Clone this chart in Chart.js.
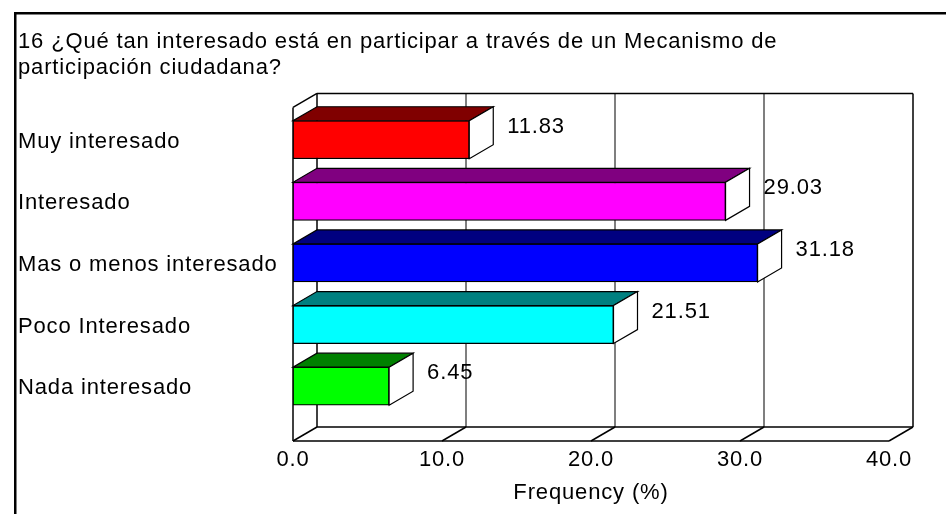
<!DOCTYPE html>
<html>
<head>
<meta charset="utf-8">
<script src="https://cdn.jsdelivr.net/npm/chart.js@4"></script>
<style>
  html, body { margin: 0; padding: 0; background: #fff; }
  #wrap { width: 946px; height: 514px; }
</style>
</head>
<body>
<div id="wrap"><canvas id="chart16"></canvas></div>
<script>
// datos de la pregunta 16
const categorias = ['Muy interesado', 'Interesado', 'Mas o menos interesado', 'Poco Interesado', 'Nada interesado'];
const frecuencia = [11.83, 29.03, 31.18, 21.51, 6.45];
const ticksX = [0, 10, 20, 30, 40];

const coloresFrente = ['#ff0000', '#ff00ff', '#0000ff', '#00ffff', '#00ff00'];
const coloresArriba = ['#800000', '#800080', '#000080', '#008080', '#008000'];

const fuente = "'Liberation Sans', Arial, sans-serif";
const dx = 24, dy = -14;   // profundidad del efecto 3D

function linea(ctx, x1, y1, x2, y2) {
  ctx.beginPath();
  ctx.moveTo(x1, y1);
  ctx.lineTo(x2, y2);
  ctx.stroke();
}

function poligono(ctx, pts, fill) {
  ctx.beginPath();
  ctx.moveTo(pts[0][0], pts[0][1]);
  pts.slice(1).forEach(p => ctx.lineTo(p[0], p[1]));
  ctx.closePath();
  ctx.fillStyle = fill;
  ctx.fill();
  ctx.stroke();
}

const efecto3D = {
  id: 'efecto3D',
  beforeDraw(chart) {
    const ctx = chart.ctx;
    ctx.save();
    ctx.fillStyle = '#fff';
    ctx.fillRect(0, 0, chart.width, chart.height);
    ctx.strokeStyle = '#000';
    ctx.lineWidth = 2.5;
    ctx.strokeRect(15.25, 13.25, chart.width + 20, chart.height + 20);
    ctx.restore();
    // el texto del original es mas ancho que Arial
    ctx.letterSpacing = '0.85px';
  },
  beforeDatasetsDraw(chart) {
    const { ctx, chartArea: a, scales: { x } } = chart;
    const L = x.getPixelForValue(x.min);
    const R = x.getPixelForValue(x.max);
    const top = a.top - 1.5;
    const bottom = a.bottom + 24;
    ctx.save();
    ctx.lineWidth = 1.5;
    // lineas de la pared del fondo y del piso
    ticksX.forEach(v => {
      if (v === x.min || v === x.max) return;
      const px = x.getPixelForValue(v);
      ctx.strokeStyle = '#555';
      linea(ctx, px + dx, top + dy, px + dx, bottom + dy);
      ctx.strokeStyle = '#000';
      linea(ctx, px, bottom, px + dx, bottom + dy);
    });
    ctx.strokeStyle = '#000';
    linea(ctx, L, top, L, bottom);
    linea(ctx, L + dx, top + dy, L + dx, bottom + dy);
    linea(ctx, L, top, L + dx, top + dy);
    linea(ctx, L, bottom, L + dx, bottom + dy);
    linea(ctx, L + dx, top + dy, R + dx, top + dy);
    linea(ctx, R + dx, top + dy, R + dx, bottom + dy);
    linea(ctx, L, bottom, R, bottom);
    linea(ctx, L + dx, bottom + dy, R + dx, bottom + dy);
    linea(ctx, R, bottom, R + dx, bottom + dy);
    ctx.restore();
  },
  afterDatasetsDraw(chart) {
    const ctx = chart.ctx;
    const meta = chart.getDatasetMeta(0);
    ctx.save();
    ctx.lineWidth = 1.2;
    ctx.strokeStyle = '#000';
    meta.data.forEach((bar, i) => {
      const { x: xe, y: yc, base, height } = bar.getProps(['x', 'y', 'base', 'height'], true);
      const t = yc - height / 2, b = yc + height / 2;
      poligono(ctx, [[base, t], [xe, t], [xe + dx, t + dy], [base + dx, t + dy]], coloresArriba[i]);
      poligono(ctx, [[xe, t], [xe + dx, t + dy], [xe + dx, b + dy], [xe, b]], '#fff');
      ctx.fillStyle = '#000';
      ctx.font = '22px ' + fuente;
      ctx.textAlign = 'left';
      ctx.textBaseline = 'middle';
      ctx.fillText(frecuencia[i].toFixed(2), xe + dx + 14, t + 6);
    });
    ctx.restore();
  }
};

const ctx = document.getElementById('chart16').getContext('2d');

new Chart(ctx, {
  type: 'bar',
  data: {
    labels: categorias,
    datasets: [{
      label: 'Frequency (%)',
      data: frecuencia,
      backgroundColor: coloresFrente,
      borderColor: '#000',
      borderWidth: 1.2,
      borderSkipped: false,
      barThickness: 38
    }]
  },
  options: {
    indexAxis: 'y',
    responsive: true,
    maintainAspectRatio: false,
    animation: false,
    layout: { padding: { left: 18, right: 57, top: 0, bottom: 0 } },
    plugins: {
      legend: { display: false },
      tooltip: { enabled: false },
      title: {
        display: true,
        align: 'start',
        color: '#000',
        text: ['16 ¿Qué tan interesado está en participar a través de un Mecanismo de', 'participación ciudadana?'],
        font: { family: fuente, size: 22, weight: 'normal', lineHeight: 1.18 },
        padding: { top: 29, bottom: 28 }
      }
    },
    scales: {
      x: {
        min: 0,
        max: 40,
        afterBuildTicks: s => { s.ticks = ticksX.map(v => ({ value: v })); },
        afterFit: s => { s.height = 97; },
        grid: { display: false, drawTicks: false },
        border: { display: false },
        ticks: {
          color: '#000',
          padding: 30,
          maxRotation: 0,
          font: { family: fuente, size: 22 },
          callback: v => Number(v).toFixed(1)
        },
        title: {
          display: true,
          text: 'Frequency (%)',
          color: '#000',
          font: { family: fuente, size: 22 },
          padding: { top: 0, bottom: 8 }
        }
      },
      y: {
        afterFit: s => { s.width = 275; },
        grid: { display: false, drawTicks: false },
        border: { display: false },
        ticks: {
          color: '#000',
          crossAlign: 'far',
          padding: 0,
          labelOffset: 2,
          font: { family: fuente, size: 22 }
        }
      }
    }
  },
  plugins: [efecto3D]
});
</script>
</body>
</html>
